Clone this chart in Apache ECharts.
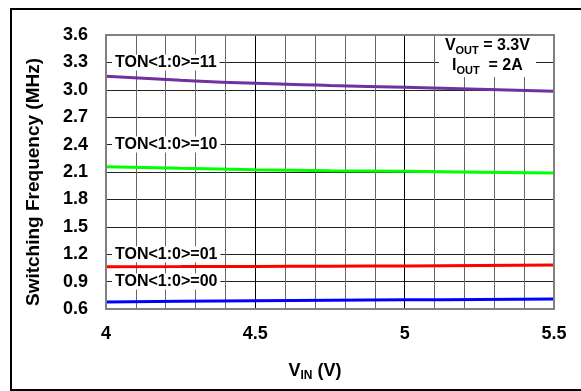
<!DOCTYPE html>
<html><head><meta charset="utf-8">
<script src="https://cdn.jsdelivr.net/npm/echarts@6/dist/echarts.min.js"></script>
<style>html,body{margin:0;padding:0;background:#fff}#c{width:581px;height:391px}</style>
</head><body><div id="c"></div>
<script>
var vin = [4.0, 4.25, 4.5, 4.75, 5.0, 5.25, 5.5];
var ton11 = [3.148, 3.105, 3.071, 3.048, 3.027, 3.005, 2.983];
var ton10 = [2.158, 2.140, 2.125, 2.115, 2.107, 2.098, 2.089];
var ton01 = [1.063, 1.064, 1.066, 1.069, 1.072, 1.077, 1.082];
var ton00 = [0.677, 0.684, 0.690, 0.695, 0.700, 0.705, 0.709];
var seriesNames = ['TON<1:0>=11', 'TON<1:0>=10', 'TON<1:0>=01', 'TON<1:0>=00'];
var seriesColors = ['#7030A0', '#00FF00', '#FF0000', '#0000FF'];
var labelY = [3.3, 2.4, 1.2, 0.9];
var xTicks = [4, 4.5, 5, 5.5];
var yMin = 0.6, yMax = 3.6, yStep = 0.3;

var FONT = "'Liberation Sans', Arial, sans-serif";
var allData = [ton11, ton10, ton01, ton00];
function pairs(arr){ return vin.map(function(x,i){return [x, arr[i]];}); }

var series = allData.map(function(d, k){
  return {
    type: 'line', name: seriesNames[k], data: pairs(d), smooth: true,
    showSymbol: false, symbol: 'none',
    lineStyle: {color: seriesColors[k], width: 3},
    z: 3,
    markPoint: {
      symbol: 'circle', symbolSize: 0, silent: true,
      data: [{coord: [4.0, labelY[k]]}],
      label: {
        show: true, position: 'right', distance: 6,
        formatter: seriesNames[k],
        fontFamily: FONT, fontWeight: 'bold', fontSize: 16, color: '#000',
        backgroundColor: '#fff', padding: [0, 3]
      }
    }
  };
});

series.push({
  type: 'line', data: [], 
  markPoint: {
    symbol: 'circle', symbolSize: 0, silent: true,
    data: [{coord: [5.277, 3.37]}],
    label: {
      show: true, position: 'inside', align: 'center', verticalAlign: 'middle',
      formatter: '{v|V}{s|OUT}{n| = 3.3V}\n{v|I}{s|OUT}{n|  = 2A}',
      backgroundColor: '#fff', padding: [1, 6],
      rich: {
        v: {fontFamily: FONT, fontWeight: 'bold', fontSize: 16, color: '#000', lineHeight: 20},
        s: {fontFamily: FONT, fontWeight: 'bold', fontSize: 11, color: '#000', lineHeight: 20, verticalAlign: 'bottom', padding: [6,0,0,0]},
        n: {fontFamily: FONT, fontWeight: 'bold', fontSize: 16, color: '#000', lineHeight: 20}
      }
    }
  }
});

var chart = echarts.init(document.getElementById('c'), null, {renderer: 'canvas'});
chart.setOption({
  animation: false,
  backgroundColor: '#fff',
  grid: {left: 106, top: 35, right: 27, bottom: 82, show: true, borderColor: '#808080', borderWidth: 2, backgroundColor: 'transparent', z: 10},
  xAxis: {
    type: 'value', min: 4, max: 5.5, interval: 0.5,
    axisLine: {show: false}, axisTick: {show: false},
    axisLabel: {margin: 16, fontFamily: FONT, fontWeight: 'bold', fontSize: 18, color: '#000',
      formatter: function(v){ return xTicks.indexOf(+v.toFixed(2)) >= 0 ? String(+v.toFixed(2)) : ''; }},
    splitLine: {show: true, lineStyle: {color: '#000', width: 1}},
    minorTick: {show: false, splitNumber: 5},
    minorSplitLine: {show: true, lineStyle: {color: '#666', width: 1}}
  },
  yAxis: {
    type: 'value', min: yMin, max: yMax, interval: yStep,
    axisLine: {show: false}, axisTick: {show: false},
    axisLabel: {margin: 18, fontFamily: FONT, fontWeight: 'bold', fontSize: 18, color: '#000',
      formatter: function(v){ return v.toFixed(1); }},
    splitLine: {show: true, lineStyle: {color: '#222', width: 1}}
  },
  graphic: [
    {type: 'rect', shape: {x: 11, y: 9, width: 590, height: 381}, style: {fill: 'none', stroke: '#000', lineWidth: 2}, silent: true},
    {type: 'text', x: 34, y: 182, rotation: Math.PI/2,
      style: {text: 'Switching Frequency (MHz)', fontFamily: FONT, fontWeight: 'bold', fontSize: 19, fill: '#000', align: 'center', verticalAlign: 'middle'}},
    {type: 'text', x: 315, y: 371,
      style: {text: '{v|V}{s|IN}{v| (V)}', align: 'center', verticalAlign: 'middle',
        rich: {
          v: {fontFamily: FONT, fontWeight: 'bold', fontSize: 18, fill: '#000', lineHeight: 22},
          s: {fontFamily: FONT, fontWeight: 'bold', fontSize: 12, fill: '#000', lineHeight: 22, verticalAlign: 'bottom', padding: [7,0,0,0]}
        }}}
  ],
  series: series
});
</script></body></html>
